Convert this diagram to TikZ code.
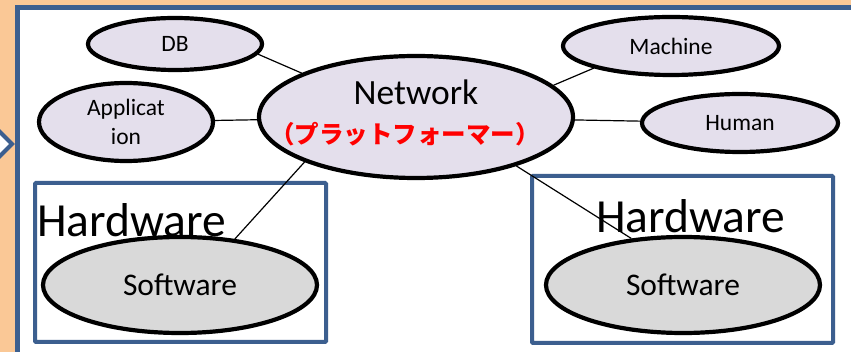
\documentclass[tikz,border=0pt]{standalone}
\usepackage{fontspec}
\setmainfont{Carlito}
\newfontfamily\cjk{Noto Sans CJK JP}
\usetikzlibrary{shapes.geometric}
\definecolor{peach}{HTML}{FAC896}
\definecolor{frameblue}{HTML}{3C5F8F}
\definecolor{lav}{HTML}{E4DFEC}
\definecolor{swgray}{HTML}{D9D9D9}
\tikzset{
  bub/.style={ellipse, draw=black, line width=4.2pt, fill=lav, inner sep=0pt, align=center},
  swell/.style={ellipse, draw=black, line width=4.2pt, fill=swgray, inner sep=0pt, font=\fontsize{31.5}{36}\selectfont},
  small/.style={font=\fontsize{23.5}{29}\selectfont},
  hwbox/.style={draw=frameblue, line width=4pt, rounded corners=1pt},
  link/.style={draw=black, line width=1.2pt},
  hwtext/.style={font=\fontsize{47.5}{50}\selectfont, inner sep=0pt, anchor=base west}
}
\begin{document}
\begin{tikzpicture}[x=1pt,y=-1pt]
\useasboundingbox (0,0) rectangle (851,352);
\clip (0,0) rectangle (851,352);
\fill[peach] (0,0) rectangle (851,352);
\draw[frameblue, line width=5pt, fill=white] (17.5,7.5) rectangle (870,370);
\draw[frameblue, line width=4pt, fill=white, miter limit=10] (-12,144) -- (0,132) -- (12,144) -- (0,156) -- cycle;
% hardware boxes
\draw[hwbox] (35,183) rectangle (326,342);
\draw[hwbox] (532,176) rectangle (833,343);
\node[hwtext] (hw1) at (37,237) {Hardware};
\node[hwtext] (hw2) at (596,233) {Hardware};
% ellipses
\node[bub, minimum width=174pt, minimum height=52pt, small] (db) at (175,44) {DB};
\node[bub, minimum width=174pt, minimum height=78pt, small] (app) at (126,122) {Applicat\\ion};
\node[bub, minimum width=314pt, minimum height=122pt] (net) at (416,117) {};
\node[bub, minimum width=216pt, minimum height=58pt, small] (mach) at (671,46) {Machine};
\node[bub, minimum width=196pt, minimum height=58pt, small] (hum) at (740,123) {Human};
\node[swell, minimum width=274pt, minimum height=96pt] (sw1) at (180,285) {Software};
\node[swell, minimum width=274pt, minimum height=96pt] (sw2) at (683,285) {Software};
\node[font=\fontsize{35.5}{40}\selectfont, inner sep=0pt, anchor=base] (nettxt) at (416,105) {Network};
\node[font=\fontsize{24.5}{28}\selectfont\cjk\bfseries, text=red, inner sep=0pt] (plat) at (405,134) {（プラットフォーマー）};
% connectors
\draw[link] (db.353) -- (net.159);
\draw[link] (app) -- (net);
\draw[link] (mach.196) -- (net.13);
\draw[link] (hum) -- (net);
\draw[link] (net.202.5) -- (sw1.40);
\draw[link] (net.334) -- (sw2.138);
\end{tikzpicture}
\end{document}
